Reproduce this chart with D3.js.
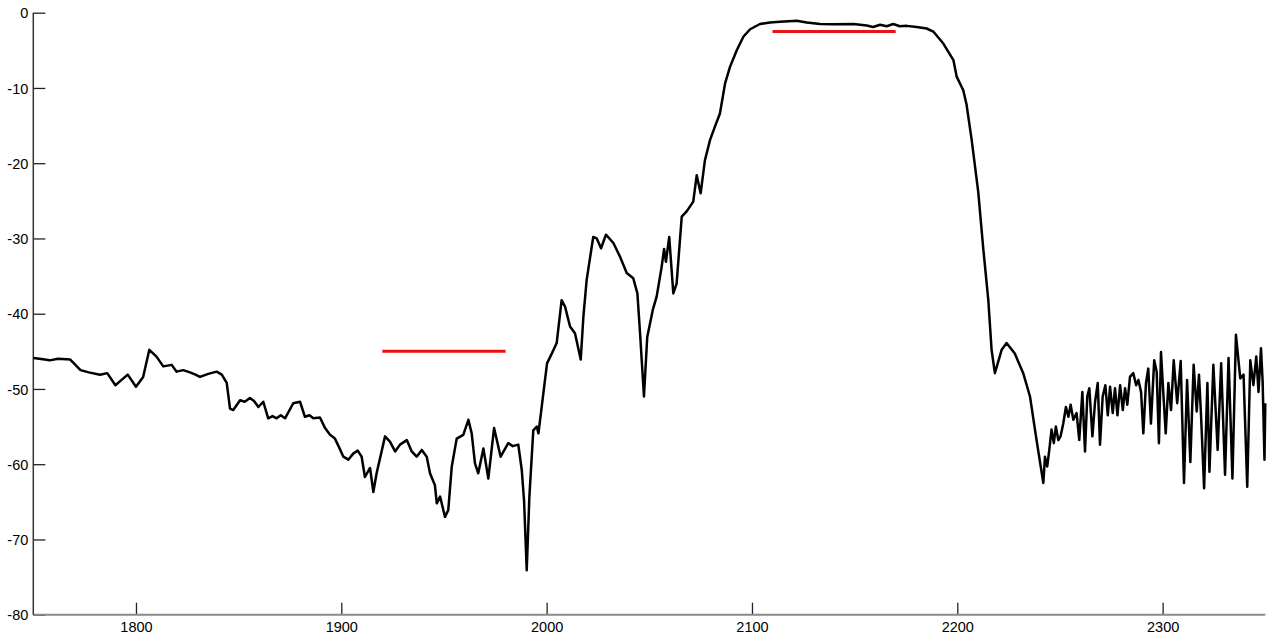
<!DOCTYPE html>
<html>
<head>
<meta charset="utf-8">
<script src="https://cdn.jsdelivr.net/npm/d3@7"></script>
<style>
  html, body { margin: 0; padding: 0; background: #fff; }
  svg { display: block; }
</style>
</head>
<body>
<svg id="chart" width="1275" height="641"></svg>
<script>
// Frequency response sweep (MHz) and measured level (dB)
const freq = [
  1750, 1753, 1758, 1762, 1768, 1773, 1777, 1782.5, 1786, 1790, 1793, 1796, 1800, 1803.5, 1806.5, 1810,
  1813.3, 1817.4, 1819.8, 1823, 1826.3, 1829, 1831.2, 1835.2, 1839.3, 1841.8, 1844.2, 1845.8, 1847.4, 1850.7,
  1853, 1855.5, 1857.5, 1859.6, 1862, 1864.4, 1866.5, 1868.5, 1870.5, 1872.6, 1876.6, 1879.9, 1882.3,
  1884.5, 1886.4, 1889.6, 1892.1, 1894.5, 1896.9, 1899, 1901, 1903.4, 1905.8, 1908, 1909.9, 1911.5, 1914,
  1915.6, 1917.2, 1921.3, 1923.7, 1926.2, 1928.6, 1931.9, 1934.3, 1936.7, 1939.2, 1941.6, 1943.2, 1945.6,
  1946.5, 1948.1, 1950.5, 1952.1, 1953.8, 1956.2, 1959.4, 1961.9, 1963.5, 1965.1, 1966.7, 1969.2, 1971.6,
  1974.4, 1977.6, 1981.3, 1983.5, 1986.2, 1987.9, 1989, 1990.3, 1991.6, 1993.5, 1995.2, 1996, 1997, 1998.4,
  2000.2, 2002.5, 2004.9, 2007.3, 2009, 2011.4, 2013.8, 2016.6, 2017.9, 2019.5, 2022.7, 2024.4, 2026.5,
  2028.9, 2032.5, 2035.7, 2039, 2042.2, 2044.2, 2045.5, 2047.4, 2049, 2051.7, 2053.6, 2056, 2057.2, 2058.1,
  2059.7, 2061.7, 2063.3, 2065.8, 2068.2, 2071.4, 2073.1, 2075, 2077.1, 2079.6, 2082, 2084.4, 2086.9,
  2089.3, 2092.6, 2095.8, 2099.1, 2103.9, 2108.8, 2113.7, 2121.8, 2126.7, 2133.1, 2139.6, 2149.4, 2155.9,
  2159, 2162.4, 2165.6, 2168.8, 2172, 2175.4, 2180.2, 2185.1, 2188.3, 2193.2, 2198.1, 2199.7, 2202.9,
  2204.5, 2207, 2210.2, 2212.7, 2215.1, 2216.7, 2218.3, 2221.6, 2224, 2228, 2232.1, 2235.4, 2238.6,
  2241.9, 2242.7, 2243.8, 2244.8, 2245.9, 2247, 2248, 2249.2, 2250.3, 2251.6, 2252.9, 2254.1, 2255.2,
  2256.5, 2258.1, 2259.4, 2260.9, 2262.2, 2263.3, 2264.3, 2265.8, 2267.1, 2268.4, 2269.5, 2270.8, 2272.1,
  2273.3, 2274.4, 2275.7, 2276.8, 2278, 2279.3, 2280.6, 2281.7, 2282.8, 2284.1, 2285.7, 2287.1, 2288.2,
  2289.5, 2290.6, 2291.9, 2293, 2294.3, 2295.9, 2297.1, 2298.2, 2299.2, 2300.3, 2301.5, 2302.8, 2304.1,
  2305.4, 2307.1, 2308.8, 2310.4, 2311.9, 2313.5, 2315.1, 2316.6, 2317.7, 2318.7, 2320.2, 2321.8, 2322.8,
  2324.7, 2326.8, 2328.5, 2330.4, 2332.1, 2334, 2335.7, 2337.8, 2339.4, 2341.2, 2342.7, 2344.2, 2345.6,
  2346.7, 2347.9, 2348.7, 2349.6, 2350
];
const level = [
  -45.9, -46.0, -46.2, -46.0, -46.1, -47.5, -47.8, -48.1, -47.9, -49.5, -48.8, -48.1, -49.7, -48.4, -44.8, -45.7,
  -47.0, -46.8, -47.7, -47.5, -47.8, -48.1, -48.4, -48.0, -47.7, -48.1, -49.2, -52.6, -52.8, -51.5,
  -51.7, -51.2, -51.6, -52.4, -51.7, -53.9, -53.6, -53.9, -53.5, -53.9, -51.9, -51.7, -53.7,
  -53.5, -53.9, -53.8, -55.2, -56.1, -56.6, -57.8, -59.0, -59.4, -58.6, -58.2, -59.0, -61.7, -60.5,
  -63.7, -61.2, -56.3, -57.0, -58.3, -57.4, -56.8, -58.3, -59.0, -58.1, -59.0, -61.2, -62.8,
  -65.2, -64.3, -67.0, -66.1, -60.3, -56.6, -56.1, -54.1, -55.9, -59.9, -61.2, -57.9, -61.9,
  -55.2, -59.0, -57.2, -57.6, -57.4, -60.8, -64.8, -74.1, -64.3, -55.5, -55.0, -55.9, -53.7, -50.6,
  -46.6, -45.3, -43.9, -38.2, -39.1, -41.7, -42.6, -46.1, -40.4, -35.5, -29.8, -30.0, -31.3,
  -29.5, -30.6, -32.4, -34.6, -35.3, -37.3, -42.6, -51.0, -43.1, -39.5, -37.7, -33.8, -31.4, -33.1,
  -29.8, -37.3, -36.0, -27.1, -26.4, -25.1, -21.6, -24.0, -19.6, -16.9, -15.1, -13.4, -9.4,
  -7.2, -5.0, -3.2, -2.2, -1.5, -1.3, -1.2, -1.06, -1.3, -1.5, -1.55, -1.5, -1.7,
  -1.9, -1.6, -1.8, -1.5, -1.8, -1.75, -1.9, -2.1, -2.5, -4.1, -6.3, -8.5, -10.3,
  -12.2, -16.9, -23.8, -31.5, -38.2, -44.8, -47.9, -44.8, -43.9, -45.3, -47.9, -51.0, -56.8,
  -62.5, -59.0, -60.3, -58.1, -55.4, -57.2, -55.0, -56.8, -56.3, -54.6, -52.4, -53.7, -52.1,
  -54.1, -53.2, -56.8, -50.4, -58.3, -51.0, -49.9, -56.3, -51.7, -49.2, -57.4, -51.0, -49.5,
  -53.5, -49.7, -53.2, -49.9, -53.5, -49.5, -52.8, -49.9, -52.1, -48.4, -47.9, -49.5, -48.8,
  -50.4, -55.9, -49.2, -47.3, -54.6, -46.2, -47.7, -57.2, -45.1, -50.4, -55.9, -49.2, -52.8,
  -46.2, -51.9, -46.3, -62.5, -48.8, -59.7, -46.8, -53.0, -48.1, -53.5, -63.2, -49.2, -61.0,
  -46.8, -58.1, -46.6, -61.4, -45.9, -61.9, -42.8, -48.6, -48.1, -63.0, -46.2, -49.5, -45.7,
  -50.4, -44.6, -49.0, -59.4, -51.9
];

// Specification limit segments
const limitStart = [1920, 2110];
const limitEnd = [1980, 2170];
const limitLevel = [-45, -2.5];

// Axis ticks
const xTicks = [1800, 1900, 2000, 2100, 2200, 2300];
const yTicks = [-80, -70, -60, -50, -40, -30, -20, -10, 0];

const svg = d3.select("#chart");
const plotLeft = 33.3, plotRight = 1265.3, plotTop = 12.7, plotBottom = 614.7;

const x = d3.scaleLinear().domain([1750, 2350]).range([plotLeft, plotRight]);
const y = d3.scaleLinear().domain([-80, 0]).range([plotBottom, plotTop]);

const fmt = d => String(d);

// Axes with inward ticks
const gx = svg.append("g")
  .attr("transform", `translate(0,${plotBottom})`)
  .call(d3.axisBottom(x).tickValues(xTicks).tickFormat(fmt)
    .tickSizeInner(-12).tickSizeOuter(0).tickPadding(7));
gx.select(".domain").remove();
gx.attr("font-family", "'Liberation Sans', Arial, sans-serif").attr("font-size", 14.5);
gx.selectAll(".tick line").attr("stroke", "#222").attr("stroke-width", 1.3);
gx.selectAll(".tick text").attr("fill", "#000");

const gy = svg.append("g")
  .attr("transform", `translate(${plotLeft},0)`)
  .call(d3.axisLeft(y).tickValues(yTicks).tickFormat(fmt)
    .tickSizeInner(-12).tickSizeOuter(0).tickPadding(5));
gy.select(".domain").remove();
gy.attr("font-family", "'Liberation Sans', Arial, sans-serif").attr("font-size", 14.5);
gy.selectAll(".tick line").attr("stroke", "#222").attr("stroke-width", 1.3);
gy.selectAll(".tick text").attr("fill", "#000").attr("dy", "0.36em");

svg.append("line")
  .attr("x1", plotLeft).attr("x2", plotRight)
  .attr("y1", plotBottom).attr("y2", plotBottom)
  .attr("stroke", "#8a8a8a").attr("stroke-width", 2);
svg.append("line")
  .attr("x1", plotLeft).attr("x2", plotLeft)
  .attr("y1", plotTop).attr("y2", plotBottom)
  .attr("stroke", "#333").attr("stroke-width", 1.5);

// Measured response
const pts = freq.map((f, i) => [f, level[i]]);
svg.append("path")
  .datum(pts)
  .attr("fill", "none")
  .attr("stroke", "#000")
  .attr("stroke-width", 2.5)
  .attr("stroke-linejoin", "round")
  .attr("d", d3.line().x(d => x(d[0])).y(d => y(d[1])));

// Limit lines
svg.selectAll("line.limit")
  .data(limitStart.map((s, i) => ({ s, e: limitEnd[i], v: limitLevel[i] })))
  .join("line")
  .attr("class", "limit")
  .attr("x1", d => x(d.s)).attr("x2", d => x(d.e))
  .attr("y1", d => y(d.v)).attr("y2", d => y(d.v))
  .attr("stroke", "#ee1111").attr("stroke-width", 3);
</script>
</body>
</html>
